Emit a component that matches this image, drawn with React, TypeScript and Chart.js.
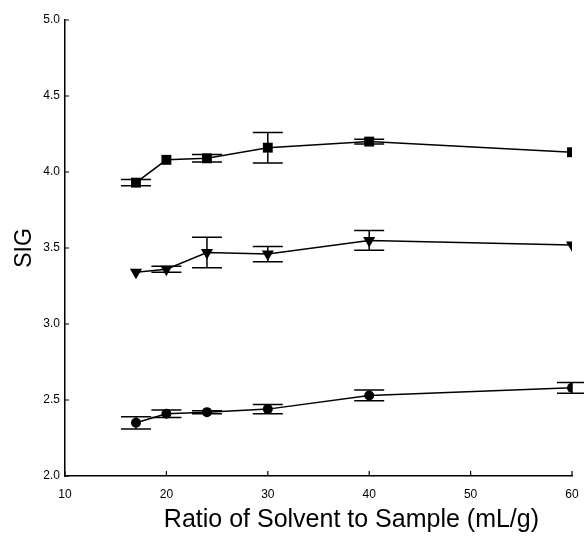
import React, { useEffect, useRef } from "react";
import { Chart, registerables } from "chart.js";

Chart.register(...registerables);

const ratios = [17, 20, 24, 30, 40, 60];
const squareValues = [3.93, 4.08, 4.09, 4.16, 4.20, 4.13];
const squareErrors = [0.02, 0.0, 0.025, 0.1, 0.015, 0.0];
const triangleValues = [3.34, 3.36, 3.47, 3.46, 3.55, 3.52];
const triangleErrors = [0.0, 0.02, 0.1, 0.05, 0.065, 0.0];
const circleValues = [2.35, 2.41, 2.42, 2.44, 2.53, 2.58];
const circleErrors = [0.04, 0.025, 0.01, 0.03, 0.035, 0.035];
const yTicks = [2.0, 2.5, 3.0, 3.5, 4.0, 4.5, 5.0];
const xTicks = [10, 20, 30, 40, 50, 60];
const xTitle = "Ratio of Solvent to Sample (mL/g)";
const yTitle = "SIG";

const FONT = "'Liberation Sans', Arial, sans-serif";

const errorBarPlugin = {
  id: "errorBars",
  afterDatasetsDraw(chart: any) {
    const ctx = chart.ctx;
    const xs = chart.scales.x;
    const ys = chart.scales.y;
    ctx.save();
    ctx.strokeStyle = "#000";
    ctx.lineWidth = 1.5;
    chart.data.datasets.forEach((ds: any) => {
      const errs: number[] = ds.errors || [];
      ds.data.forEach((pt: any, i: number) => {
        const e = errs[i];
        if (!e) return;
        const px = xs.getPixelForValue(pt.x);
        const top = ys.getPixelForValue(pt.y + e);
        const bot = ys.getPixelForValue(pt.y - e);
        const hw = 15;
        ctx.beginPath();
        ctx.moveTo(px, top);
        ctx.lineTo(px, bot);
        ctx.moveTo(px - hw, top);
        ctx.lineTo(px + hw, top);
        ctx.moveTo(px - hw, bot);
        ctx.lineTo(px + hw, bot);
        ctx.stroke();
      });
    });
    // inward ticks
    ctx.lineWidth = 1.2;
    const area = chart.chartArea;
    ctx.beginPath();
    yTicks.forEach((v) => {
      const py = ys.getPixelForValue(v);
      ctx.moveTo(area.left, py);
      ctx.lineTo(area.left + 4, py);
    });
    xTicks.forEach((v) => {
      const px = xs.getPixelForValue(v);
      ctx.moveTo(px, area.bottom);
      ctx.lineTo(px, area.bottom - 5);
    });
    ctx.stroke();
    // x-axis title (offset to the right as in the original figure)
    ctx.fillStyle = "#000";
    ctx.font = "25px " + FONT;
    ctx.textAlign = "center";
    ctx.textBaseline = "alphabetic";
    ctx.fillText(xTitle, area.left + (area.right - area.left) * 0.565, area.bottom + 51);
    ctx.restore();
  },
};

function pts(values: number[]) {
  return ratios.map((x, i) => ({ x, y: values[i] }));
}

export default function App() {
  const ref = useRef<HTMLCanvasElement | null>(null);
  useEffect(() => {
    if (!ref.current) return;
    const common = {
      borderColor: "#000",
      backgroundColor: "#000",
      pointBackgroundColor: "#000",
      pointBorderColor: "#000",
      borderWidth: 1.5,
      pointBorderWidth: 0,
      showLine: true,
      tension: 0,
    };
    const chart = new Chart(ref.current, {
      type: "scatter",
      data: {
        datasets: [
          { ...common, label: "square", data: pts(squareValues), errors: squareErrors, pointStyle: "rect", pointRadius: 7 } as any,
          { ...common, label: "triangle", data: pts(triangleValues), errors: triangleErrors, pointStyle: "triangle", pointRotation: 180, pointRadius: 7 } as any,
          { ...common, label: "circle", data: pts(circleValues), errors: circleErrors, pointStyle: "circle", pointRadius: 5 } as any,
        ],
      },
      options: {
        animation: false,
        responsive: false,
        layout: { padding: { top: 20, right: 12, left: 0, bottom: 0 } },
        plugins: { legend: { display: false }, tooltip: { enabled: false } },
        scales: {
          x: {
            type: "linear",
            min: 10,
            max: 60,
            afterFit: (s: any) => { s.height = 65; s.paddingLeft = 0; s.paddingRight = 0; },
            afterBuildTicks: (s: any) => { s.ticks = xTicks.map((v) => ({ value: v })); },
            border: { display: true, color: "#000", width: 1.5 },
            grid: { display: false, drawTicks: false },
            ticks: {
              color: "#000",
              padding: 11,
              font: { family: FONT, size: 12 },
              callback: (v: any) => String(v),
            },
            title: { display: false },
          },
          y: {
            type: "linear",
            min: 2,
            max: 5,
            afterFit: (s: any) => { s.width = 65; s.paddingTop = 0; s.paddingBottom = 0; },
            afterBuildTicks: (s: any) => { s.ticks = yTicks.map((v) => ({ value: v })); },
            border: { display: true, color: "#000", width: 1.5 },
            grid: { display: false, drawTicks: false },
            ticks: {
              color: "#000",
              padding: 5,
              font: { family: FONT, size: 12 },
              callback: (v: any) => Number(v).toFixed(1),
            },
            title: {
              display: true,
              text: yTitle,
              color: "#000",
              font: { family: FONT, size: 23 },
              padding: { top: 11, bottom: 0 },
            },
          },
        },
      },
      plugins: [errorBarPlugin],
    } as any);
    return () => chart.destroy();
  }, []);
  return (
    <div style={{ position: "absolute", left: 0, top: 0, width: 584, height: 541, background: "#fff" }}>
      <canvas ref={ref} width={584} height={541} style={{ display: "block" }} />
    </div>
  );
}
